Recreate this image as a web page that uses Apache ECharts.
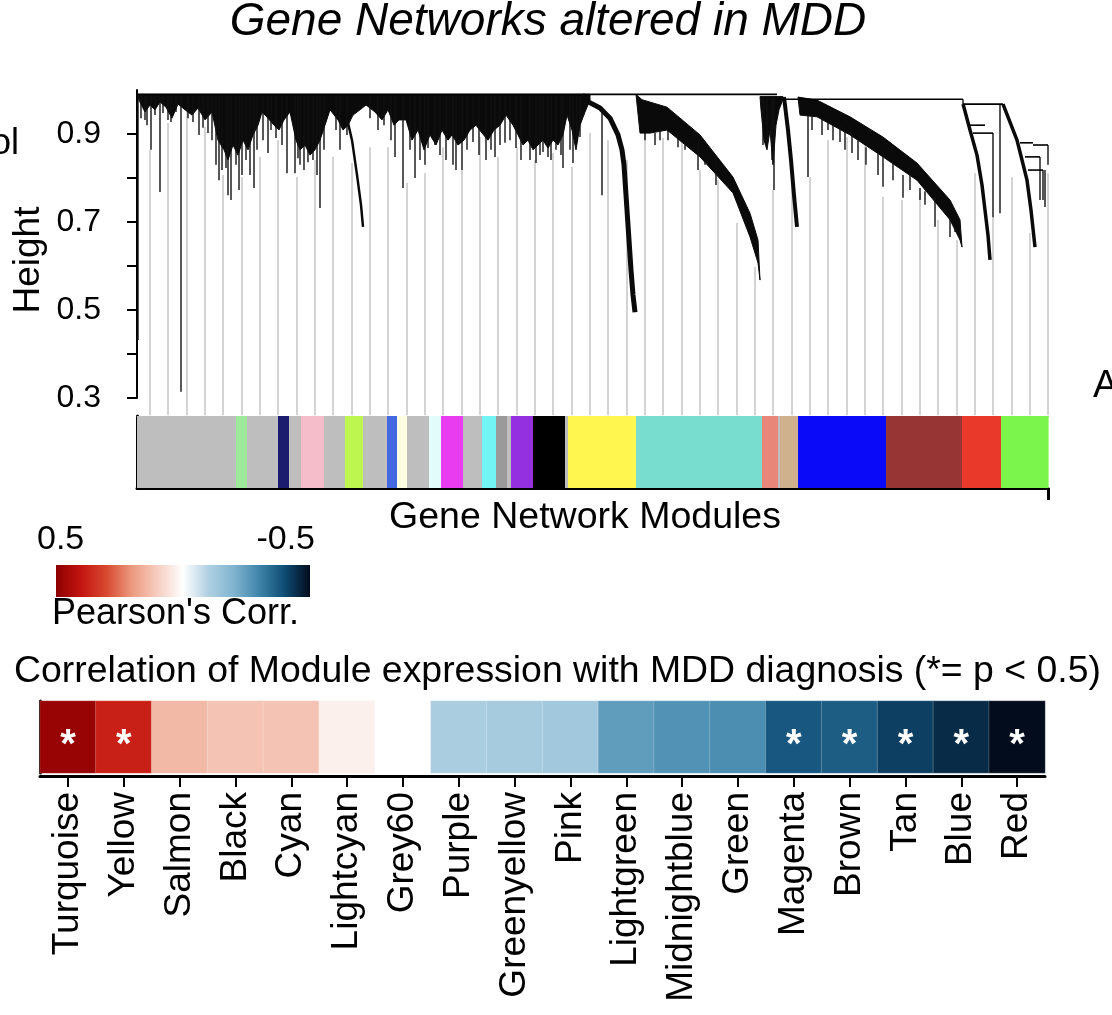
<!DOCTYPE html>
<html><head><meta charset="utf-8">
<script src="https://cdn.jsdelivr.net/npm/echarts@6/dist/echarts.min.js"></script>
<style>html,body{margin:0;padding:0;background:#fff}#c{width:1112px;height:1015px}</style>
</head><body><div id="c"></div>
<script>
// ===== Dendrogram (x = leaf order position, y = merge height) =====
const heightTicks = [0.3, 0.5, 0.7, 0.9];
const guideLeaves = [13,31,50,68,86,105,123,141,160,178,196,215,233,251,270,288,306,325,343,361,380,398,416,435,453,471,490,508,526,545,563,581,600,618,636,655,673,691,710,728,746,765,783,801,820,838,856,875,893,911];
const guideTops = [0.864,0.925,0.955,0.916,0.807,0.802,0.848,0.886,0.802,0.841,0.848,0.834,0.870,0.870,0.789,0.811,0.870,0.818,0.893,0.848,0.870,0.841,0.857,0.825,0.902,0.886,0.841,0.932,0.891,0.886,0.818,0.795,0.698,0.598,0.773,0.811,0.802,0.886,0.893,0.880,0.757,0.750,0.766,0.705,0.659,0.811,0.711,0.802,0.675,0.811];
const mergeSegments = [[1,640,0.990],[640,826,0.979],[826,866,0.968],[832,848,0.920],[836,856,0.902],[883,896,0.880],[896,911,0.875],[888,903,0.848],[891,906,0.818]];
const denseMassEdge = [[1,0.990],[2,0.977],[8,0.950],[13,0.966],[18,0.955],[23,0.973],[29,0.961],[35,0.936],[41,0.968],[48,0.955],[55,0.943],[61,0.959],[68,0.932],[75,0.950],[81,0.886],[87,0.864],[91,0.841],[96,0.875],[101,0.852],[106,0.886],[111,0.864],[116,0.898],[121,0.920],[125,0.950],[131,0.936],[137,0.920],[142,0.909],[147,0.932],[153,0.950],[159,0.886],[163,0.864],[168,0.875],[173,0.852],[178,0.864],[183,0.886],[188,0.920],[193,0.955],[201,0.932],[206,0.909],[211,0.920],[216,0.943],[223,0.955],[229,0.966],[238,0.950],[245,0.932],[251,0.955],[257,0.920],[262,0.932],[269,0.932],[275,0.886],[281,0.909],[287,0.864],[293,0.898],[299,0.875],[305,0.909],[311,0.886],[315,0.898],[321,0.875],[327,0.886],[333,0.909],[339,0.920],[345,0.902],[351,0.886],[357,0.909],[363,0.920],[369,0.943],[376,0.920],[381,0.898],[386,0.875],[391,0.886],[396,0.864],[401,0.875],[406,0.886],[411,0.868],[416,0.886],[421,0.875],[426,0.898],[430,0.943],[435,0.909],[439,0.864],[443,0.920],[448,0.950],[453,0.977],[453,0.990]];
const salmonMassEdge = [[623,0.985],[624,0.955],[627,0.886],[630,0.864],[633,0.909],[636,0.830],[639,0.920],[642,0.955],[645,0.973],[646,0.985]];
const turquoiseBand = [[499,0.990],[505,0.978],[530,0.961],[563,0.898],[596,0.802],[613,0.720],[621,0.659],[623,0.568],[621,0.607],[613,0.666],[596,0.766],[563,0.848],[530,0.909],[513,0.902],[503,0.902]];
const blueBrownBand = [[661,0.984],[680,0.977],[713,0.939],[746,0.893],[780,0.834],[813,0.750],[823,0.705],[825,0.643],[823,0.659],[813,0.705],[780,0.795],[746,0.848],[713,0.898],[680,0.939],[663,0.943]];
const yellowCurve = [[445,0.990],[448,0.977],[463,0.959],[473,0.936],[481,0.898],[485,0.864],[487,0.830],[488,0.795],[490,0.727],[492,0.659],[494,0.591],[496,0.534],[498,0.495]];
const tanCurve = [[647,0.984],[651,0.909],[654,0.841],[657,0.761],[660,0.689]];
const redCurve = [[826,0.968],[827,0.960],[833,0.909],[840,0.852],[845,0.784],[848,0.727],[851,0.670],[853,0.614]];
const greenCurve = [[866,0.968],[873,0.927],[880,0.886],[885,0.841],[890,0.795],[894,0.727],[898,0.643]];
const greyCurve = [[208,0.955],[215,0.886],[220,0.807],[224,0.739],[226,0.689]];
const branchSpikes = [[1,0.99,0.432],[8,0.99,0.932],[14,0.99,0.864],[23,0.99,0.768],[34,0.99,0.927],[44,0.99,0.314],[62,0.99,0.898],[85,0.99,0.818],[91,0.99,0.761],[99,0.99,0.830],[105,0.99,0.807],[117,0.99,0.777],[131,0.99,0.857],[150,0.99,0.811],[158,0.99,0.811],[163,0.99,0.830],[176,0.99,0.841],[183,0.99,0.732],[258,0.99,0.848],[266,0.99,0.777],[278,0.99,0.800],[288,0.99,0.830],[298,0.99,0.875],[316,0.99,0.830],[325,0.99,0.818],[336,0.99,0.882],[358,0.99,0.848],[368,0.99,0.880],[393,0.99,0.841],[406,0.99,0.859],[411,0.99,0.848],[426,0.99,0.823],[436,0.99,0.834],[443,0.99,0.893],[465,0.96,0.761],[523,0.914,0.886],[541,0.90,0.870],[561,0.88,0.818],[579,0.85,0.784],[626,0.985,0.875],[630,0.985,0.870],[635,0.985,0.841],[637,0.985,0.773],[671,0.943,0.802],[691,0.93,0.909],[703,0.92,0.882],[715,0.90,0.857],[746,0.852,0.780],[766,0.807,0.755],[783,0.777,0.750],[798,0.755,0.689],[813,0.709,0.666],[826,0.979,0.968],[863,0.968,0.720],[856,0.902,0.711],[911,0.875,0.830],[903,0.848,0.750],[908,0.818,0.734],[906,0.818,0.750],
  [4,0.99,0.936],[10,0.99,0.920],[18,0.99,0.943],[26,0.99,0.948],[31,0.99,0.932],[39,0.99,0.950],[51,0.99,0.936],[56,0.99,0.927],[66,0.99,0.914],[71,0.99,0.902],[75,0.99,0.886],[79,0.99,0.830],[82,0.99,0.795],[89,0.99,0.823],[94,0.99,0.750],[102,0.99,0.773],[109,0.99,0.841],[113,0.99,0.807],[120,0.99,0.864],[126,0.99,0.886],[134,0.99,0.909],[139,0.99,0.891],[145,0.99,0.875],[161,0.99,0.845],[167,0.99,0.818],[171,0.99,0.836],[180,0.99,0.807],[187,0.99,0.864],[199,0.99,0.909],[203,0.99,0.864],[210,0.99,0.898],[233,0.99,0.936],[241,0.99,0.909],[247,0.99,0.920],[254,0.99,0.886],[273,0.99,0.864],[283,0.99,0.841],[291,0.99,0.868],[303,0.99,0.852],[309,0.99,0.841],[319,0.99,0.818],[330,0.99,0.864],[342,0.99,0.852],[349,0.99,0.841],[354,0.99,0.864],[363,0.99,0.875],[373,0.99,0.886],[379,0.99,0.868],[384,0.99,0.841],[399,0.99,0.834],[403,0.99,0.852],[414,0.99,0.841],[419,0.99,0.864],[424,0.99,0.852],[433,0.99,0.864],[440,0.99,0.886],
  [675,0.94,0.909],[685,0.936,0.898],[696,0.92,0.886],[708,0.905,0.864],[721,0.886,0.841],[729,0.87,0.830],[741,0.855,0.807],[756,0.835,0.795],[773,0.81,0.773],[788,0.77,0.739],[818,0.69,0.677],
  [508,0.902,0.886],[518,0.902,0.875],[531,0.909,0.886],[548,0.875,0.864],[568,0.84,0.830]];

// ===== Module colour bar =====
const moduleStart = [0,99,110,141,152,164,187,208,226,250,260,270,292,304,326,345,359,370,374,396,428,431,499,625,641,643,661,749,825,864];
const moduleEnd   = [99,110,141,152,164,187,208,226,250,260,270,292,304,326,345,359,370,374,396,428,431,499,625,641,643,661,749,825,864,911];
const moduleColorName = ['grey','lightgreen','grey','midnightblue','grey','pink','grey','greenyellow','grey','royalblue','lightyellow','grey','lightcyan','magenta','grey','cyan','grey60','grey','purple','black','grey','yellow','turquoise','salmon','grey','tan','blue','brown','red','green'];

// ===== Module-trait correlation =====
const traitModules = ['Turquoise','Yellow','Salmon','Black','Cyan','Lightcyan','Grey60','Purple','Greenyellow','Pink','Lightgreen','Midnightblue','Green','Magenta','Brown','Tan','Blue','Red'];
const traitCorr = [0.48,0.38,0.14,0.12,0.12,0.03,0.0,-0.11,-0.12,-0.13,-0.25,-0.27,-0.28,-0.38,-0.37,-0.42,-0.45,-0.5];
const traitSig = [1,1,0,0,0,0,0,0,0,0,0,0,0,1,1,1,1,1];
const corrRange = [-0.5, 0.5];

// ===== styles =====
const FONT = '"Liberation Sans", Arial, Helvetica, sans-serif';
const moduleColors = {grey:'#bebebe', lightgreen:'#9de89a', midnightblue:'#1c1c6e', pink:'#f5bdc9', greenyellow:'#bdf64f', royalblue:'#4468e0', lightyellow:'#fdfde0', lightcyan:'#e2fbfb', magenta:'#e93cf0', cyan:'#72f4f4', grey60:'#9a9a9a', purple:'#9530e0', black:'#000000', yellow:'#fff64f', turquoise:'#78dccf', salmon:'#e8867a', tan:'#cfb18d', blue:'#0a0af8', brown:'#973434', red:'#e8392a', green:'#7bf54b'};
const corrScaleColors = ['#020c1c','#0e4c74','#3f85aa','#80b4d0','#b0d0e2','#ffffff','#f6cdc0','#ec9a80','#d84a30','#c41510','#8c0000'];
const GUIDE_FLOOR = 0.261;

const polygons = [denseMassEdge, salmonMassEdge, turquoiseBand, blueBrownBand];
const curves = [yellowCurve, tanCurve, redCurve, greenCurve, greyCurve];
const curveWidths = [5, 4, 3.5, 3.5, 2.5];

const chart = echarts.init(document.getElementById('c'));
const gradStops = corrScaleColors.slice().reverse().map((c,i,a)=>({offset:i/(a.length-1), color:c}));

chart.setOption({
  animation:false,
  backgroundColor:'#fff',
  grid:[
    {left:137, right:64, top:90, height:308},
    {left:137, right:64, top:416, height:72},
    {left:40, right:67, top:701, height:72}
  ],
  xAxis:[
    {gridIndex:0, type:'value', min:0, max:911, show:false},
    {gridIndex:1, type:'value', min:0, max:911, axisLine:{show:true, onZero:false, lineStyle:{color:'#000', width:3}},
      axisTick:{show:true, customValues:[911], length:12, lineStyle:{color:'#000', width:3}}, axisLabel:{show:false}, splitLine:{show:false}},
    {gridIndex:1, type:'value', position:'top', min:0, max:911, axisLine:{show:true, onZero:false, lineStyle:{color:'#555', width:1}},
      axisTick:{show:false}, axisLabel:{show:false}, splitLine:{show:false}},
    {gridIndex:2, type:'category', data:traitModules, offset:3,
      axisLine:{show:true, lineStyle:{color:'#000', width:3}},
      axisTick:{show:true, alignWithLabel:true, length:11, lineStyle:{color:'#000', width:2}},
      axisLabel:{rotate:90, fontSize:37, color:'#000', fontFamily:FONT, margin:16, interval:0}}
  ],
  yAxis:[
    {gridIndex:0, type:'value', min:0.3, max:1.0, interval:0.1, offset:14,
      axisLine:{show:true, lineStyle:{color:'#000', width:2}},
      axisTick:{show:true, length:10, lineStyle:{color:'#000', width:2}},
      axisLabel:{fontSize:32, color:'#000', fontFamily:FONT, margin:22, showMaxLabel:false,
        formatter:v=>heightTicks.some(t=>Math.abs(t-v)<1e-6)?v.toFixed(1):''},
      splitLine:{show:false}},
    {gridIndex:1, type:'value', min:0, max:1, axisLine:{show:true, lineStyle:{color:'#000', width:3}},
      axisTick:{show:false}, axisLabel:{show:false}, splitLine:{show:false}},
    {gridIndex:2, type:'category', data:[''], axisLine:{show:true, lineStyle:{color:'#000', width:3}},
      axisTick:{show:false}, axisLabel:{show:false}, splitLine:{show:false}}
  ],
  visualMap:{type:'continuous', min:corrRange[0], max:corrRange[1], dimension:2, seriesIndex:7, show:false,
    inRange:{color:corrScaleColors}},
  series:[
    {type:'custom', xAxisIndex:0, yAxisIndex:0, clip:false, silent:true,
      data:guideLeaves.map((x,i)=>[x, guideTops[i]]),
      renderItem:(p,api)=>{const a=api.coord([api.value(0),api.value(1)]), b=api.coord([api.value(0),GUIDE_FLOOR]);
        return {type:'line', shape:{x1:a[0],y1:a[1],x2:b[0],y2:b[1]}, style:{stroke:'#a8a8a8', lineWidth:1}};}},
    {type:'custom', xAxisIndex:0, yAxisIndex:0, clip:false, silent:true,
      data:polygons.map(p=>[p[0][0], p[0][1]]),
      renderItem:(p,api)=>({type:'polygon', shape:{points:polygons[p.dataIndex].map(pt=>api.coord(pt))}, style:{fill:'#0a0a0a', stroke:'#0a0a0a', lineWidth:1}})},
    {type:'custom', xAxisIndex:0, yAxisIndex:0, clip:false, silent:true,
      data:curves.map(c=>[c[0][0], c[0][1]]),
      renderItem:(p,api)=>({type:'polyline', shape:{points:curves[p.dataIndex].map(pt=>api.coord(pt))}, style:{stroke:'#0a0a0a', lineWidth:curveWidths[p.dataIndex], fill:null, lineJoin:'round'}})},
    {type:'custom', xAxisIndex:0, yAxisIndex:0, clip:false, silent:true,
      data:branchSpikes,
      renderItem:(p,api)=>{const a=api.coord([api.value(0),api.value(1)]), b=api.coord([api.value(0),api.value(2)]);
        return {type:'line', shape:{x1:a[0],y1:a[1],x2:b[0],y2:b[1]}, style:{stroke:'#111', lineWidth:1.4}};}},
    {type:'custom', xAxisIndex:0, yAxisIndex:0, clip:false, silent:true,
      data:mergeSegments,
      renderItem:(p,api)=>{const a=api.coord([api.value(0),api.value(2)]), b=api.coord([api.value(1),api.value(2)]);
        return {type:'line', shape:{x1:a[0],y1:a[1],x2:b[0],y2:b[1]}, style:{stroke:'#000', lineWidth:1.6}};}},
    {type:'custom', xAxisIndex:1, yAxisIndex:1, silent:true,
      data:moduleStart.map((s,i)=>[s, moduleEnd[i]]),
      renderItem:(p,api)=>{const a=api.coord([api.value(0),1]), b=api.coord([api.value(1),0]);
        return {type:'rect', shape:{x:a[0], y:a[1], width:b[0]-a[0]+0.6, height:b[1]-a[1]}, style:{fill:moduleColors[moduleColorName[p.dataIndex]]}};}},
    {type:'custom', xAxisIndex:1, yAxisIndex:1, data:[], renderItem:()=>null},
    {type:'heatmap', xAxisIndex:3, yAxisIndex:2, silent:true,
      data:traitCorr.map((v,i)=>[i,0,v]),
      itemStyle:{borderColor:'rgba(255,255,255,0.22)', borderWidth:1},
      label:{show:true, color:'#fff', fontSize:40, fontWeight:'bold', fontFamily:FONT, offset:[0,9],
        formatter:p=>traitSig[p.dataIndex]?'*':''},
      emphasis:{disabled:true}}
  ],
  graphic:[
    {type:'text', x:548, y:22, style:{text:'Gene Networks altered in MDD', font:'italic 46px '+FONT, fill:'#000', align:'center', verticalAlign:'middle'}},
    {type:'text', x:19, y:144, style:{text:'ol', font:'36px '+FONT, fill:'#000', align:'right', verticalAlign:'middle'}},
    {type:'text', x:1093, y:387, style:{text:'A', font:'38px '+FONT, fill:'#000', align:'left', verticalAlign:'middle'}},
    {type:'text', x:29, y:260, rotation:Math.PI/2, style:{text:'Height', font:'37px '+FONT, fill:'#000', align:'center', verticalAlign:'middle'}},
    {type:'text', x:585, y:518, style:{text:'Gene Network Modules', font:'37.5px '+FONT, fill:'#000', align:'center', verticalAlign:'middle'}},
    {type:'text', x:37, y:540, style:{text:String(corrRange[1]), font:'34px '+FONT, fill:'#000', align:'left', verticalAlign:'middle'}},
    {type:'text', x:315, y:540, style:{text:String(corrRange[0]), font:'34px '+FONT, fill:'#000', align:'right', verticalAlign:'middle'}},
    {type:'rect', shape:{x:56, y:565, width:254, height:32}, style:{fill:new echarts.graphic.LinearGradient(0,0,1,0,gradStops)}},
    {type:'text', x:52, y:614, style:{text:"Pearson's Corr.", font:'36px '+FONT, fill:'#000', align:'left', verticalAlign:'middle'}},
    {type:'text', x:14, y:672, style:{text:'Correlation of Module expression with MDD diagnosis (*= p < 0.5)', font:'37.4px '+FONT, fill:'#000', align:'left', verticalAlign:'middle'}}
  ]
});
</script></body></html>
